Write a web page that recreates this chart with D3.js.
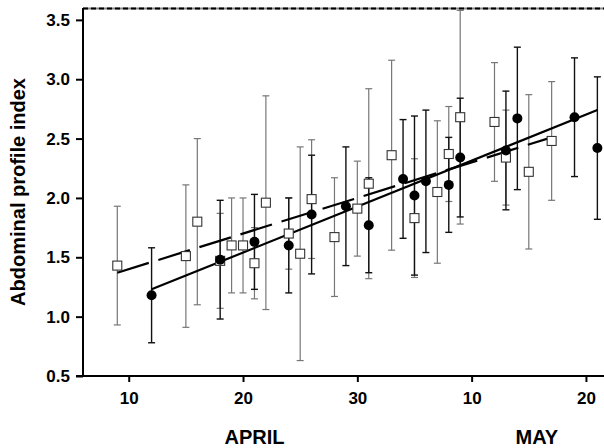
<!DOCTYPE html>
<meta charset="utf-8">
<script src="https://d3js.org/d3.v7.min.js"></script>
<style>
  body { margin: 0; background: #fff; }
  text { font-family: "Liberation Sans", Arial, sans-serif; font-weight: bold; fill: #000; }
</style>
<body>
<svg width="604" height="448"></svg>
<script>
    // day index: April d -> d, May d -> 30 + d
    let circleDays = [12, 18, 21, 24, 26, 29, 31, 34, 35, 36, 38, 39, 43, 44, 49, 51],
        circleVals = [1.18, 1.48, 1.63, 1.60, 1.86, 1.93, 1.77, 2.16, 2.02, 2.14, 2.11, 2.34, 2.40, 2.67, 2.68, 2.42],
        circleErr  = [0.40, 0.50, 0.40, 0.40, 0.50, 0.50, 0.40, 0.50, 0.67, 0.60, 0.40, 0.50, 0.50, 0.60, 0.50, 0.60]

    let squareDays = [9, 15, 16, 18, 19, 20, 21, 22, 24, 25, 26, 28, 30, 31, 33, 35, 37, 38, 39, 42, 43, 45, 47],
        squareVals = [1.43, 1.51, 1.80, 1.47, 1.60, 1.60, 1.45, 1.96, 1.70, 1.53, 1.99, 1.67, 1.91, 2.12, 2.36, 1.83, 2.05, 2.37, 2.68, 2.64, 2.34, 2.22, 2.48],
        squareErr  = [0.50, 0.60, 0.70, 0.40, 0.40, 0.40, 0.30, 0.90, 0.30, 0.90, 0.50, 0.50, 0.40, 0.80, 0.80, 0.50, 0.60, 0.40, 0.90, 0.50, 0.40, 0.65, 0.50]

    // fitted lines (end points)
    let solidFitDays = [12, 51], solidFitVals = [1.23, 2.74],
        dashFitDays = [9, 47], dashFitVals = [1.37, 2.51]

    let xTicks = [10, 20, 30, 40, 50],
        xTickLabels = ['10', '20', '30', '10', '20'],
        yTicks = [0.5, 1.0, 1.5, 2.0, 2.5, 3.0, 3.5],
        months = [{name: 'APRIL', day: 21}, {name: 'MAY', day: 45.7}]

    let svg = d3.select('svg')

    let x = d3.scaleLinear().domain([6, 51.58]).range([83, 604]),
        y = d3.scaleLinear().domain([0.5, 3.6]).range([376, 8])

    let circles = circleDays.map((d, i) => ({day: d, v: circleVals[i], e: circleErr[i]})),
        squares = squareDays.map((d, i) => ({day: d, v: squareVals[i], e: squareErr[i]}))

    // frame top
    svg.append('line').attr('x1', 83).attr('x2', 604).attr('y1', 8.5).attr('y2', 8.5)
        .style('stroke', '#888').style('stroke-width', 2)
    svg.append('line').attr('x1', 83).attr('x2', 604).attr('y1', 8.5).attr('y2', 8.5)
        .style('stroke', '#000').style('stroke-width', 2).style('stroke-dasharray', '5,3')

    // axes
    let yAxis = svg.append('g').attr('transform', 'translate(83,0)')
        .call(d3.axisLeft(y).tickValues(yTicks).tickFormat(d3.format('.1f')).tickSize(7).tickSizeOuter(0).tickPadding(6))
    let xAxis = svg.append('g').attr('transform', 'translate(0,376)')
        .call(d3.axisBottom(x).tickValues(xTicks).tickFormat((d, i) => xTickLabels[i]).tickSize(6).tickSizeOuter(0).tickPadding(10))

    svg.selectAll('.domain').style('stroke', '#000').style('stroke-width', 2)
    svg.selectAll('.tick line').style('stroke', '#000').style('stroke-width', 2)
    svg.selectAll('.tick text').style('font-size', '17px').style('font-family', '"Liberation Sans", Arial, sans-serif').style('font-weight', 'bold')
    yAxis.select('.domain').attr('d', 'M0,376V8')
    xAxis.select('.domain').attr('d', 'M76,0H604')

    // month labels
    svg.selectAll('text.month').data(months).enter().append('text').attr('class', 'month')
        .attr('x', d => x(d.day)).attr('y', 444)
        .attr('text-anchor', 'middle').style('font-size', '20px')
        .text(d => d.name)

    svg.append('text').attr('transform', 'translate(25,192) rotate(-90)')
        .attr('text-anchor', 'middle').style('font-size', '20px')
        .text('Abdominal profile index')

    // error bars
    let drawErr = (data, color, width) => {
        let g = svg.append('g').style('stroke', color).style('stroke-width', width)
        g.selectAll('line.v').data(data).enter().append('line')
            .attr('x1', d => x(d.day)).attr('x2', d => x(d.day))
            .attr('y1', d => y(d.v + d.e)).attr('y2', d => y(d.v - d.e))
        g.selectAll('line.t').data(data).enter().append('line')
            .attr('x1', d => x(d.day) - 3.5).attr('x2', d => x(d.day) + 3.5)
            .attr('y1', d => y(d.v + d.e)).attr('y2', d => y(d.v + d.e))
        g.selectAll('line.b').data(data).enter().append('line')
            .attr('x1', d => x(d.day) - 3.5).attr('x2', d => x(d.day) + 3.5)
            .attr('y1', d => y(d.v - d.e)).attr('y2', d => y(d.v - d.e))
    }
    drawErr(squares, '#777', 1.2)
    drawErr(circles, '#111', 1.4)

    // fitted lines
    let line = d3.line().x(d => x(d[0])).y(d => y(d[1]))
    svg.append('path').datum(dashFitDays.map((d, i) => [d, dashFitVals[i]]))
        .attr('d', line).style('fill', 'none').style('stroke', '#000').style('stroke-width', 2.2)
        .style('stroke-dasharray', '33,10')
    svg.append('path').datum(solidFitDays.map((d, i) => [d, solidFitVals[i]]))
        .attr('d', line).style('fill', 'none').style('stroke', '#000').style('stroke-width', 2.2)

    // markers
    svg.selectAll('rect.sq').data(squares).enter().append('rect').attr('class', 'sq')
        .attr('x', d => x(d.day) - 4.5).attr('y', d => y(d.v) - 4.5)
        .attr('width', 9).attr('height', 9)
        .style('fill', '#fff').style('stroke', '#333').style('stroke-width', 1.1)

    svg.selectAll('circle.pt').data(circles).enter().append('circle').attr('class', 'pt')
        .attr('cx', d => x(d.day)).attr('cy', d => y(d.v)).attr('r', 5)
        .style('fill', '#000')
</script>
</body>
